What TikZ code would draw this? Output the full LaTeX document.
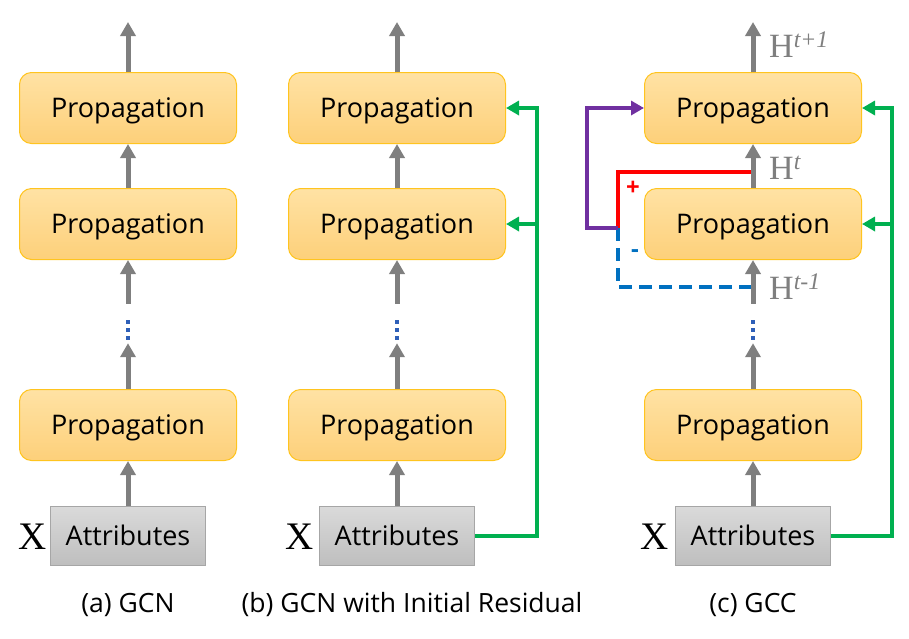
\documentclass[tikz,border=0pt]{standalone}
\usepackage{fontspec}
\setmainfont{Open Sans}
\newfontfamily\timesfont{Liberation Serif}
\usetikzlibrary{arrows.meta}
\definecolor{proptop}{HTML}{FFE2A4}
\definecolor{propbot}{HTML}{FDD07A}
\definecolor{propline}{HTML}{FFC41F}
\definecolor{attrtop}{HTML}{DADADA}
\definecolor{attrbot}{HTML}{BEBEBE}
\definecolor{attrline}{HTML}{A6A6A6}
\definecolor{arrgray}{HTML}{7F7F7F}
\definecolor{resgreen}{HTML}{00B050}
\definecolor{respurple}{HTML}{7030A0}
\definecolor{resred}{HTML}{FF0000}
\definecolor{resblue}{HTML}{0070C0}
\definecolor{dotblue}{HTML}{2E5FB8}

\begin{document}
\begin{tikzpicture}[
  x=1pt, y=-1pt,
  prop/.style={rounded corners=12pt, draw=propline, line width=1pt,
    top color=proptop, bottom color=propbot,
    minimum width=217pt, minimum height=71pt, inner sep=0pt,
    text height=19pt, text depth=0pt,
    font=\fontsize{27}{30}\selectfont},
  attr/.style={draw=attrline, line width=1pt,
    top color=attrtop, bottom color=attrbot,
    minimum width=155pt, minimum height=59pt, inner sep=0pt,
    text height=19pt, text depth=0pt,
    font=\fontsize{27}{30}\selectfont},
  vdotsnode/.style={minimum width=6pt, minimum height=39pt, inner sep=0pt,
    path picture={\foreach \k in {1.5,-6.5,-14.5}
      \fill[dotblue] ([xshift=-2pt,yshift=\k pt-2pt]path picture bounding box.center) rectangle ++(4pt,4pt);}},
  garr/.style={draw=arrgray, line width=5pt, -{Triangle[length=14pt,width=15pt]}},
  grn/.style={draw=resgreen, line width=4pt, -{Triangle[length=13pt,width=14pt]}},
  xlab/.style={font=\timesfont\fontsize{39}{40}\selectfont},
  hlab/.style={anchor=base west, text=arrgray, inner sep=0pt,
    font=\timesfont\fontsize{34}{36}\selectfont},
  captext/.style={font=\fontsize{26.5}{29}\selectfont}
]
\useasboundingbox (0,0) rectangle (909,638);

% (a) GCN
\node[prop] (pa1) at (128,108) {Propagation};
\node[prop] (pa2) at (128,224) {Propagation};
\node[vdotsnode] (da) at (128,323.5) {};
\node[prop] (pa3) at (128,425) {Propagation};
\node[attr] (atta) at (128,536) {Attributes};
\node[xlab] (xa) at (33,537) {X};
\coordinate (ta) at (128,22);
\draw[garr] (pa1.north) -- (ta);
\draw[garr] (pa2.north) -- (pa1.south);
\draw[garr] (da.north) -- (pa2.south);
\draw[garr] (pa3.north) -- (da.south);
\draw[garr] (atta.north) -- (pa3.south);
\node[captext] (capa) at (128,605) {(a) GCN};

% (b) GCN with initial residual
\node[prop] (pb1) at (397,108) {Propagation};
\node[prop] (pb2) at (397,224) {Propagation};
\node[vdotsnode] (db) at (397,323.5) {};
\node[prop] (pb3) at (397,425) {Propagation};
\node[attr] (attb) at (397,536) {Attributes};
\node[xlab] (xb) at (300,537) {X};
\coordinate (tb) at (397,22);
\draw[garr] (pb1.north) -- (tb);
\draw[garr] (pb2.north) -- (pb1.south);
\draw[garr] (db.north) -- (pb2.south);
\draw[garr] (pb3.north) -- (db.south);
\draw[garr] (attb.north) -- (pb3.south);
\coordinate (gb) at (537,536);
\draw[grn] (attb.east) -- (gb) |- (pb1.east);
\draw[grn] (pb2.east -| gb) -- (pb2.east);
\node[captext] (capb) at (412,605) {(b) GCN with Initial Residual};

% (c) GCC
\node[prop] (pc1) at (753,108) {Propagation};
\node[prop] (pc2) at (753,224) {Propagation};
\node[vdotsnode] (dc) at (753,323.5) {};
\node[prop] (pc3) at (753,425) {Propagation};
\node[attr] (attc) at (753,536) {Attributes};
\node[xlab] (xc) at (655,537) {X};
\coordinate (tc) at (753,22);
\coordinate (jn) at (618,228);
\coordinate (pk) at (587,228);
\coordinate (rd) at (753,172);
\coordinate (bl) at (753,287);
\draw[draw=resblue, line width=4pt, dash pattern=on 13pt off 7pt] (jn) |- (bl);
\draw[draw=resred, line width=4pt] (jn) |- (rd);
\draw[draw=respurple, line width=4pt, -{Triangle[length=13pt,width=14pt]}] (jn) -- (pk) |- (pc1.west);
\draw[garr] (pc1.north) -- (tc);
\draw[garr] (pc2.north) -- (pc1.south);
\draw[garr] (dc.north) -- (pc2.south);
\draw[garr] (pc3.north) -- (dc.south);
\draw[garr] (attc.north) -- (pc3.south);
\coordinate (gc) at (892,536);
\draw[grn] (attc.east) -- (gc) |- (pc1.east);
\draw[grn] (pc2.east -| gc) -- (pc2.east);
\node[hlab] (h1) at (769,57) {H\textsuperscript{\itshape t+1}};
\node[hlab] (h0) at (769,179) {H\textsuperscript{\itshape t}};
\node[hlab] (hm) at (769,299) {H\textsuperscript{\itshape t-1}};
\node[text=resred, font=\bfseries\fontsize{24}{26}\selectfont] (plus) at (633,188) {+};
\node[text=resblue, font=\bfseries\fontsize{24}{26}\selectfont] (minus) at (635,254) {-};
\node[captext] (capc) at (753,605) {(c) GCC};
\end{tikzpicture}
\end{document}
